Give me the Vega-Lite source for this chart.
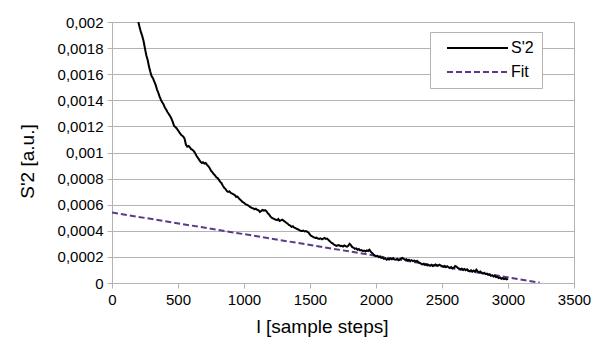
{
  "$schema": "https://vega.github.io/schema/vega-lite/v6.json",
  "width": 462,
  "height": 261,
  "autosize": "none",
  "padding": {"left": 112, "top": 22, "right": 31, "bottom": 57},
  "background": "white",
  "config": {
    "view": {"stroke": "#b3b3b3", "strokeWidth": 1},
    "font": "Liberation Sans",
    "axis": {
      "domainColor": "#b3b3b3",
      "tickColor": "#b3b3b3",
      "gridColor": "#b3b3b3",
      "labelColor": "#000000",
      "titleColor": "#000000",
      "labelFont": "Liberation Sans",
      "titleFont": "Liberation Sans",
      "labelFontSize": 15,
      "titleFontSize": 19,
      "titleFontWeight": "normal",
      "tickSize": 5,
      "labelFlush": false,
      "labelOverlap": false
    },
    "legend": {
      "labelFont": "Liberation Sans",
      "labelFontSize": 16,
      "labelColor": "#000000"
    }
  },
  "data": {
    "values": [
      {"s": "Fit", "x": 0, "y": 0.00054},
      {"s": "Fit", "x": 3240, "y": 0.000003},
      {"s": "S'2", "x": 200, "y": 0.002},
      {"s": "S'2", "x": 210, "y": 0.001955},
      {"s": "S'2", "x": 220, "y": 0.00192},
      {"s": "S'2", "x": 230, "y": 0.00189},
      {"s": "S'2", "x": 240, "y": 0.00185},
      {"s": "S'2", "x": 250, "y": 0.001795},
      {"s": "S'2", "x": 260, "y": 0.001745},
      {"s": "S'2", "x": 270, "y": 0.00171},
      {"s": "S'2", "x": 280, "y": 0.00166},
      {"s": "S'2", "x": 290, "y": 0.00162},
      {"s": "S'2", "x": 300, "y": 0.001585},
      {"s": "S'2", "x": 310, "y": 0.00157},
      {"s": "S'2", "x": 320, "y": 0.001545},
      {"s": "S'2", "x": 330, "y": 0.00152},
      {"s": "S'2", "x": 340, "y": 0.001485},
      {"s": "S'2", "x": 350, "y": 0.00146},
      {"s": "S'2", "x": 360, "y": 0.00143},
      {"s": "S'2", "x": 370, "y": 0.001405},
      {"s": "S'2", "x": 380, "y": 0.001385},
      {"s": "S'2", "x": 390, "y": 0.00137},
      {"s": "S'2", "x": 400, "y": 0.001345},
      {"s": "S'2", "x": 410, "y": 0.00133},
      {"s": "S'2", "x": 420, "y": 0.00131},
      {"s": "S'2", "x": 430, "y": 0.001295},
      {"s": "S'2", "x": 440, "y": 0.00128},
      {"s": "S'2", "x": 450, "y": 0.00126},
      {"s": "S'2", "x": 460, "y": 0.001235},
      {"s": "S'2", "x": 470, "y": 0.001205},
      {"s": "S'2", "x": 480, "y": 0.001195},
      {"s": "S'2", "x": 490, "y": 0.001185},
      {"s": "S'2", "x": 500, "y": 0.00117},
      {"s": "S'2", "x": 510, "y": 0.001155},
      {"s": "S'2", "x": 520, "y": 0.00114},
      {"s": "S'2", "x": 530, "y": 0.00113},
      {"s": "S'2", "x": 540, "y": 0.001122},
      {"s": "S'2", "x": 550, "y": 0.001105},
      {"s": "S'2", "x": 560, "y": 0.00106},
      {"s": "S'2", "x": 570, "y": 0.001045},
      {"s": "S'2", "x": 580, "y": 0.00105},
      {"s": "S'2", "x": 590, "y": 0.00104},
      {"s": "S'2", "x": 600, "y": 0.001025},
      {"s": "S'2", "x": 610, "y": 0.00102},
      {"s": "S'2", "x": 620, "y": 0.00101},
      {"s": "S'2", "x": 630, "y": 0.000995},
      {"s": "S'2", "x": 640, "y": 0.000975},
      {"s": "S'2", "x": 650, "y": 0.00096},
      {"s": "S'2", "x": 660, "y": 0.000945},
      {"s": "S'2", "x": 670, "y": 0.00093},
      {"s": "S'2", "x": 680, "y": 0.00092},
      {"s": "S'2", "x": 690, "y": 0.000925},
      {"s": "S'2", "x": 700, "y": 0.000915},
      {"s": "S'2", "x": 710, "y": 0.00092},
      {"s": "S'2", "x": 720, "y": 0.000905},
      {"s": "S'2", "x": 730, "y": 0.000895},
      {"s": "S'2", "x": 740, "y": 0.00088},
      {"s": "S'2", "x": 750, "y": 0.00086},
      {"s": "S'2", "x": 760, "y": 0.00085},
      {"s": "S'2", "x": 770, "y": 0.000835},
      {"s": "S'2", "x": 780, "y": 0.000825},
      {"s": "S'2", "x": 790, "y": 0.00081},
      {"s": "S'2", "x": 800, "y": 0.000805},
      {"s": "S'2", "x": 810, "y": 0.00079},
      {"s": "S'2", "x": 820, "y": 0.000775},
      {"s": "S'2", "x": 830, "y": 0.000765},
      {"s": "S'2", "x": 840, "y": 0.000745},
      {"s": "S'2", "x": 850, "y": 0.00073},
      {"s": "S'2", "x": 860, "y": 0.00072},
      {"s": "S'2", "x": 870, "y": 0.000705},
      {"s": "S'2", "x": 880, "y": 0.000698},
      {"s": "S'2", "x": 890, "y": 0.000702},
      {"s": "S'2", "x": 900, "y": 0.00069},
      {"s": "S'2", "x": 910, "y": 0.000685},
      {"s": "S'2", "x": 920, "y": 0.00068},
      {"s": "S'2", "x": 930, "y": 0.000675},
      {"s": "S'2", "x": 940, "y": 0.00066},
      {"s": "S'2", "x": 950, "y": 0.000662},
      {"s": "S'2", "x": 960, "y": 0.00065},
      {"s": "S'2", "x": 970, "y": 0.00064},
      {"s": "S'2", "x": 980, "y": 0.00063},
      {"s": "S'2", "x": 990, "y": 0.00062},
      {"s": "S'2", "x": 1000, "y": 0.000615},
      {"s": "S'2", "x": 1010, "y": 0.000605},
      {"s": "S'2", "x": 1020, "y": 0.0006},
      {"s": "S'2", "x": 1030, "y": 0.000595},
      {"s": "S'2", "x": 1040, "y": 0.000588},
      {"s": "S'2", "x": 1050, "y": 0.00058},
      {"s": "S'2", "x": 1060, "y": 0.000575},
      {"s": "S'2", "x": 1070, "y": 0.000572},
      {"s": "S'2", "x": 1080, "y": 0.000565},
      {"s": "S'2", "x": 1090, "y": 0.00057},
      {"s": "S'2", "x": 1100, "y": 0.00056},
      {"s": "S'2", "x": 1110, "y": 0.000558},
      {"s": "S'2", "x": 1120, "y": 0.000545},
      {"s": "S'2", "x": 1130, "y": 0.000552},
      {"s": "S'2", "x": 1140, "y": 0.00056},
      {"s": "S'2", "x": 1150, "y": 0.000555},
      {"s": "S'2", "x": 1160, "y": 0.000558},
      {"s": "S'2", "x": 1170, "y": 0.00055},
      {"s": "S'2", "x": 1180, "y": 0.000535},
      {"s": "S'2", "x": 1190, "y": 0.000525},
      {"s": "S'2", "x": 1200, "y": 0.00051},
      {"s": "S'2", "x": 1210, "y": 0.0005},
      {"s": "S'2", "x": 1220, "y": 0.000495},
      {"s": "S'2", "x": 1230, "y": 0.00049},
      {"s": "S'2", "x": 1240, "y": 0.000485},
      {"s": "S'2", "x": 1250, "y": 0.000482},
      {"s": "S'2", "x": 1260, "y": 0.00049},
      {"s": "S'2", "x": 1270, "y": 0.000475},
      {"s": "S'2", "x": 1280, "y": 0.00048},
      {"s": "S'2", "x": 1290, "y": 0.000485},
      {"s": "S'2", "x": 1300, "y": 0.000478},
      {"s": "S'2", "x": 1310, "y": 0.00047},
      {"s": "S'2", "x": 1320, "y": 0.000462},
      {"s": "S'2", "x": 1330, "y": 0.000455},
      {"s": "S'2", "x": 1340, "y": 0.000445},
      {"s": "S'2", "x": 1350, "y": 0.00044},
      {"s": "S'2", "x": 1360, "y": 0.00043},
      {"s": "S'2", "x": 1370, "y": 0.000435},
      {"s": "S'2", "x": 1380, "y": 0.000425},
      {"s": "S'2", "x": 1390, "y": 0.00042},
      {"s": "S'2", "x": 1400, "y": 0.000415},
      {"s": "S'2", "x": 1410, "y": 0.00041},
      {"s": "S'2", "x": 1420, "y": 0.000405},
      {"s": "S'2", "x": 1430, "y": 0.0004},
      {"s": "S'2", "x": 1440, "y": 0.000398},
      {"s": "S'2", "x": 1450, "y": 0.000402},
      {"s": "S'2", "x": 1460, "y": 0.000395},
      {"s": "S'2", "x": 1470, "y": 0.000398},
      {"s": "S'2", "x": 1480, "y": 0.000392},
      {"s": "S'2", "x": 1490, "y": 0.000385},
      {"s": "S'2", "x": 1500, "y": 0.00037},
      {"s": "S'2", "x": 1510, "y": 0.00036},
      {"s": "S'2", "x": 1520, "y": 0.000355},
      {"s": "S'2", "x": 1530, "y": 0.00035},
      {"s": "S'2", "x": 1540, "y": 0.000345},
      {"s": "S'2", "x": 1550, "y": 0.000348},
      {"s": "S'2", "x": 1560, "y": 0.00034},
      {"s": "S'2", "x": 1570, "y": 0.000338},
      {"s": "S'2", "x": 1580, "y": 0.000342},
      {"s": "S'2", "x": 1590, "y": 0.000335},
      {"s": "S'2", "x": 1600, "y": 0.00034},
      {"s": "S'2", "x": 1610, "y": 0.000345},
      {"s": "S'2", "x": 1620, "y": 0.000338},
      {"s": "S'2", "x": 1630, "y": 0.00034},
      {"s": "S'2", "x": 1640, "y": 0.00033},
      {"s": "S'2", "x": 1650, "y": 0.00032},
      {"s": "S'2", "x": 1660, "y": 0.00031},
      {"s": "S'2", "x": 1670, "y": 0.000305},
      {"s": "S'2", "x": 1680, "y": 0.000295},
      {"s": "S'2", "x": 1690, "y": 0.00029},
      {"s": "S'2", "x": 1700, "y": 0.000285},
      {"s": "S'2", "x": 1710, "y": 0.000288},
      {"s": "S'2", "x": 1720, "y": 0.00029},
      {"s": "S'2", "x": 1730, "y": 0.000282},
      {"s": "S'2", "x": 1740, "y": 0.000285},
      {"s": "S'2", "x": 1750, "y": 0.00028},
      {"s": "S'2", "x": 1760, "y": 0.000288},
      {"s": "S'2", "x": 1770, "y": 0.000282},
      {"s": "S'2", "x": 1780, "y": 0.000278},
      {"s": "S'2", "x": 1790, "y": 0.000285},
      {"s": "S'2", "x": 1800, "y": 0.0003},
      {"s": "S'2", "x": 1810, "y": 0.00029},
      {"s": "S'2", "x": 1820, "y": 0.000275},
      {"s": "S'2", "x": 1830, "y": 0.00027},
      {"s": "S'2", "x": 1840, "y": 0.000262},
      {"s": "S'2", "x": 1850, "y": 0.000265},
      {"s": "S'2", "x": 1860, "y": 0.000255},
      {"s": "S'2", "x": 1870, "y": 0.00026},
      {"s": "S'2", "x": 1880, "y": 0.00025},
      {"s": "S'2", "x": 1890, "y": 0.000252},
      {"s": "S'2", "x": 1900, "y": 0.000245},
      {"s": "S'2", "x": 1910, "y": 0.000248},
      {"s": "S'2", "x": 1920, "y": 0.000242},
      {"s": "S'2", "x": 1930, "y": 0.00025},
      {"s": "S'2", "x": 1940, "y": 0.000245},
      {"s": "S'2", "x": 1950, "y": 0.000255},
      {"s": "S'2", "x": 1960, "y": 0.00024},
      {"s": "S'2", "x": 1970, "y": 0.00023},
      {"s": "S'2", "x": 1980, "y": 0.00022},
      {"s": "S'2", "x": 1990, "y": 0.00021},
      {"s": "S'2", "x": 2000, "y": 0.000205},
      {"s": "S'2", "x": 2010, "y": 0.000208},
      {"s": "S'2", "x": 2020, "y": 0.000198},
      {"s": "S'2", "x": 2030, "y": 0.000202},
      {"s": "S'2", "x": 2040, "y": 0.000192},
      {"s": "S'2", "x": 2050, "y": 0.000195},
      {"s": "S'2", "x": 2060, "y": 0.000185},
      {"s": "S'2", "x": 2070, "y": 0.00019},
      {"s": "S'2", "x": 2080, "y": 0.000178},
      {"s": "S'2", "x": 2090, "y": 0.000185},
      {"s": "S'2", "x": 2100, "y": 0.00018},
      {"s": "S'2", "x": 2110, "y": 0.000188},
      {"s": "S'2", "x": 2120, "y": 0.000182},
      {"s": "S'2", "x": 2130, "y": 0.00019},
      {"s": "S'2", "x": 2140, "y": 0.00018},
      {"s": "S'2", "x": 2150, "y": 0.000178},
      {"s": "S'2", "x": 2160, "y": 0.000185},
      {"s": "S'2", "x": 2170, "y": 0.000175},
      {"s": "S'2", "x": 2180, "y": 0.00018},
      {"s": "S'2", "x": 2190, "y": 0.000188},
      {"s": "S'2", "x": 2200, "y": 0.000192},
      {"s": "S'2", "x": 2210, "y": 0.000185},
      {"s": "S'2", "x": 2220, "y": 0.000178},
      {"s": "S'2", "x": 2230, "y": 0.000182},
      {"s": "S'2", "x": 2240, "y": 0.000172},
      {"s": "S'2", "x": 2250, "y": 0.000178},
      {"s": "S'2", "x": 2260, "y": 0.00017},
      {"s": "S'2", "x": 2270, "y": 0.000175},
      {"s": "S'2", "x": 2280, "y": 0.000168},
      {"s": "S'2", "x": 2290, "y": 0.000172},
      {"s": "S'2", "x": 2300, "y": 0.000165},
      {"s": "S'2", "x": 2310, "y": 0.00017},
      {"s": "S'2", "x": 2320, "y": 0.00016},
      {"s": "S'2", "x": 2330, "y": 0.000155},
      {"s": "S'2", "x": 2340, "y": 0.000148},
      {"s": "S'2", "x": 2350, "y": 0.000142},
      {"s": "S'2", "x": 2360, "y": 0.000145},
      {"s": "S'2", "x": 2370, "y": 0.000138},
      {"s": "S'2", "x": 2380, "y": 0.000142},
      {"s": "S'2", "x": 2390, "y": 0.000135},
      {"s": "S'2", "x": 2400, "y": 0.000138},
      {"s": "S'2", "x": 2410, "y": 0.000132},
      {"s": "S'2", "x": 2420, "y": 0.00014},
      {"s": "S'2", "x": 2430, "y": 0.00013},
      {"s": "S'2", "x": 2440, "y": 0.000135},
      {"s": "S'2", "x": 2450, "y": 0.000142},
      {"s": "S'2", "x": 2460, "y": 0.000138},
      {"s": "S'2", "x": 2470, "y": 0.000132},
      {"s": "S'2", "x": 2480, "y": 0.00014},
      {"s": "S'2", "x": 2490, "y": 0.000135},
      {"s": "S'2", "x": 2500, "y": 0.00013},
      {"s": "S'2", "x": 2510, "y": 0.000125},
      {"s": "S'2", "x": 2520, "y": 0.00013},
      {"s": "S'2", "x": 2530, "y": 0.000122},
      {"s": "S'2", "x": 2540, "y": 0.000128},
      {"s": "S'2", "x": 2550, "y": 0.00012},
      {"s": "S'2", "x": 2560, "y": 0.000115},
      {"s": "S'2", "x": 2570, "y": 0.000122},
      {"s": "S'2", "x": 2580, "y": 0.000112},
      {"s": "S'2", "x": 2590, "y": 0.000118},
      {"s": "S'2", "x": 2600, "y": 0.00013},
      {"s": "S'2", "x": 2610, "y": 0.000125},
      {"s": "S'2", "x": 2620, "y": 0.000115},
      {"s": "S'2", "x": 2630, "y": 0.00011},
      {"s": "S'2", "x": 2640, "y": 0.000105},
      {"s": "S'2", "x": 2650, "y": 0.00011},
      {"s": "S'2", "x": 2660, "y": 0.000102},
      {"s": "S'2", "x": 2670, "y": 0.000108},
      {"s": "S'2", "x": 2680, "y": 0.000098},
      {"s": "S'2", "x": 2690, "y": 0.000105},
      {"s": "S'2", "x": 2700, "y": 0.000095},
      {"s": "S'2", "x": 2710, "y": 0.00009},
      {"s": "S'2", "x": 2720, "y": 0.000098},
      {"s": "S'2", "x": 2730, "y": 0.000088},
      {"s": "S'2", "x": 2740, "y": 0.000095},
      {"s": "S'2", "x": 2750, "y": 0.000085},
      {"s": "S'2", "x": 2760, "y": 0.000102},
      {"s": "S'2", "x": 2770, "y": 0.00009},
      {"s": "S'2", "x": 2780, "y": 0.000082},
      {"s": "S'2", "x": 2790, "y": 0.000088},
      {"s": "S'2", "x": 2800, "y": 0.00008},
      {"s": "S'2", "x": 2810, "y": 0.000072},
      {"s": "S'2", "x": 2820, "y": 0.000078},
      {"s": "S'2", "x": 2830, "y": 0.000068},
      {"s": "S'2", "x": 2840, "y": 0.000072},
      {"s": "S'2", "x": 2850, "y": 0.000062},
      {"s": "S'2", "x": 2860, "y": 0.000066},
      {"s": "S'2", "x": 2870, "y": 0.000055},
      {"s": "S'2", "x": 2880, "y": 0.00006},
      {"s": "S'2", "x": 2890, "y": 0.00005},
      {"s": "S'2", "x": 2900, "y": 0.000055},
      {"s": "S'2", "x": 2910, "y": 0.000045},
      {"s": "S'2", "x": 2920, "y": 0.000048},
      {"s": "S'2", "x": 2930, "y": 0.000038},
      {"s": "S'2", "x": 2940, "y": 0.000042},
      {"s": "S'2", "x": 2950, "y": 0.000032},
      {"s": "S'2", "x": 2960, "y": 0.000038},
      {"s": "S'2", "x": 2970, "y": 0.00003},
      {"s": "S'2", "x": 2980, "y": 0.000035},
      {"s": "S'2", "x": 2990, "y": 0.000028},
      {"s": "S'2", "x": 3000, "y": 0.000032}
    ]
  },
  "mark": {"type": "line", "strokeWidth": 2, "clip": true},
  "encoding": {
    "x": {
      "field": "x",
      "type": "quantitative",
      "scale": {"domain": [0, 3500], "nice": false},
      "axis": {
        "values": [0, 500, 1000, 1500, 2000, 2500, 3000, 3500],
        "format": "d",
        "grid": false,
        "labelPadding": 4,
        "title": "l [sample steps]",
        "titleX": 210,
        "titleY": 49,
        "titleBaseline": "alphabetic",
        "titleAlign": "center"
      }
    },
    "y": {
      "field": "y",
      "type": "quantitative",
      "scale": {"domain": [0, 0.002], "nice": false},
      "axis": {
        "values": [0, 0.0002, 0.0004, 0.0006, 0.0008, 0.001, 0.0012, 0.0014, 0.0016, 0.0018, 0.002],
        "labelExpr": "replace(format(datum.value, '~g'), '.', ',')",
        "grid": true,
        "labelPadding": 4,
        "title": "S'2 [a.u.]",
        "titleAngle": -90,
        "titleX": -79,
        "titleY": 139,
        "titleBaseline": "alphabetic",
        "titleAlign": "center"
      }
    },
    "color": {
      "field": "s",
      "type": "nominal",
      "sort": ["S'2", "Fit"],
      "scale": {"domain": ["S'2", "Fit"], "range": ["#000000", "#5b3a8c"]},
      "legend": {
        "title": null,
        "orient": "none",
        "legendX": 318,
        "legendY": 10,
        "padding": 8,
        "fillColor": "white",
        "strokeColor": "#b3b3b3",
        "symbolType": "stroke",
        "symbolSize": 3721,
        "symbolStrokeWidth": 2,
        "clipHeight": 16,
        "rowPadding": 8,
        "symbolOffset": 8,
        "labelOffset": 2
      }
    },
    "strokeDash": {
      "field": "s",
      "type": "nominal",
      "sort": ["S'2", "Fit"],
      "scale": {"domain": ["S'2", "Fit"], "range": [[1, 0], [6, 3]]},
      "legend": {
        "title": null,
        "orient": "none",
        "legendX": 318,
        "legendY": 10,
        "padding": 8,
        "fillColor": "white",
        "strokeColor": "#b3b3b3",
        "symbolType": "stroke",
        "symbolSize": 3721,
        "symbolStrokeWidth": 2,
        "clipHeight": 16,
        "rowPadding": 8,
        "symbolOffset": 8,
        "labelOffset": 2
      }
    }
  }
}
